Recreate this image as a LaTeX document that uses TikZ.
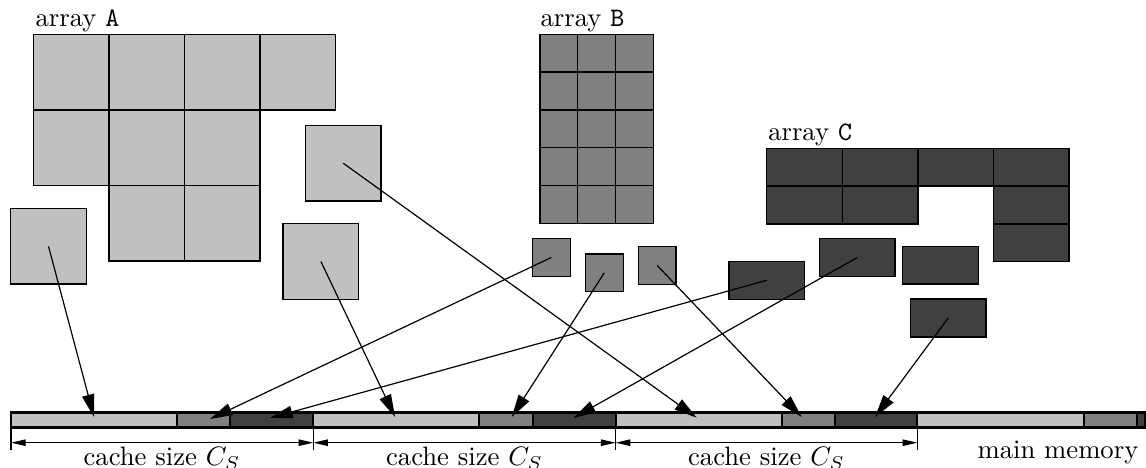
\documentclass[tikz,border=0pt]{standalone}
\usetikzlibrary{arrows.meta}
\definecolor{lightblk}{RGB}{192,192,192}
\definecolor{midblk}{RGB}{128,128,128}
\definecolor{darkblk}{RGB}{64,64,64}
\begin{document}
\begin{tikzpicture}[x=0.375pt,y=-0.375pt,
  cell/.style={draw=black, line width=0.5pt},
  blk/.style={draw=black, line width=0.5pt, inner sep=0pt, outer sep=0pt},
  blockA/.style={blk, fill=lightblk, minimum width=28.35pt, minimum height=28.35pt},
  blockB/.style={blk, fill=midblk, minimum width=14.2pt, minimum height=14.2pt},
  blockC/.style={blk, fill=darkblk, minimum width=28.35pt, minimum height=14.2pt},
  conn/.style={line width=0.45pt, -{Triangle[length=8.5pt,width=4.6pt]}},
  dim/.style={line width=0.45pt, {Triangle[length=5.5pt,width=2.4pt]}-{Triangle[length=5.5pt,width=2.4pt]}},
  sep/.style={line width=0.7pt},
  lbl/.style={anchor=base west, inner sep=0pt},
  caplabel/.style={anchor=base, inner sep=0pt},
]
\useasboundingbox (0,0) rectangle (1146,468);

% array A: 75.6 x 75.6 cells
\foreach \c/\r in {0/0,1/0,2/0,3/0,0/1,1/1,2/1,1/2,2/2}
  \filldraw[cell, fill=lightblk] ({33.3+75.6*\c},{34.3+75.6*\r}) rectangle ++(75.6,75.6);
\node[lbl] (labA) at (35,27) {array \texttt{A}};

% array B: 3 x 5 cells of 37.8
\foreach \c in {0,1,2}
  \foreach \r in {0,...,4}
    \filldraw[cell, fill=midblk] ({540+37.8*\c},{34.3+37.8*\r}) rectangle ++(37.8,37.8);
\node[lbl] (labB) at (540,27) {array \texttt{B}};

% array C: 75.6 x 37.8 cells
\foreach \c/\r in {0/0,1/0,2/0,3/0,0/1,1/1,3/1,3/2}
  \filldraw[cell, fill=darkblk] ({766.7+75.6*\c},{148.3+37.8*\r}) rectangle ++(75.6,37.8);
\node[lbl] (labC) at (767.7,141) {array \texttt{C}};

% blocks taken out of the arrays
\node[blockA] (a1) at (48.5,246.3) {};
\node[blockA] (a2) at (343.2,163.2) {};
\node[blockA] (a3) at (320.9,261.5) {};
\node[blockB] (b1) at (551.3,257.5) {};
\node[blockB] (b2) at (604.3,272.8) {};
\node[blockB] (b3) at (657.2,265.5) {};
\node[blockC] (c1) at (766.8,280.3) {};
\node[blockC] (c2) at (857.3,257.5) {};
\node[blockC] (c3) at (940.5,265.2) {};
\node[blockC] (c4) at (948.2,318) {};

% main memory strip
\foreach \s in {11,313.3,615.6} {
  \fill[lightblk] (\s,412.3) rectangle ({\s+166},427.3);
  \fill[midblk] ({\s+166},412.3) rectangle ({\s+219.3},427.3);
  \fill[darkblk] ({\s+219.3},412.3) rectangle ({\s+302.3},427.3);
  \draw[sep] ({\s+166},412.3) -- ({\s+166},427.3)
             ({\s+219.3},412.3) -- ({\s+219.3},427.3);
}
\fill[lightblk] (917.3,412.3) rectangle (1084,427.3);
\fill[midblk] (1084,412.3) rectangle (1136.7,427.3);
\fill[darkblk] (1136.7,412.3) rectangle (1145,427.3);
\draw[sep] (1084,412.3) -- (1084,427.3) (1136.7,412.3) -- (1136.7,427.3)
  (313.3,412.3) -- (313.3,427.3) (615.6,412.3) -- (615.6,427.3) (917.3,412.3) -- (917.3,427.3);
\draw[line width=1.1pt] (11,412.3) rectangle (1145,427.3);

% targets in memory
\coordinate (t1) at (94,417);
\coordinate (t2) at (210,419);
\coordinate (t3) at (270,418);
\coordinate (t4) at (395,417);
\coordinate (t5) at (511.7,417);
\coordinate (t6) at (573.3,418);
\coordinate (t7) at (696.7,417.7);
\coordinate (t8) at (801.7,417);
\coordinate (t9) at (875,417);

\draw[conn] (a1.center) -- (t1);
\draw[conn] (b1.center) -- (t2);
\draw[conn] (c1.center) -- (t3);
\draw[conn] (a3.center) -- (t4);
\draw[conn] (b2.center) -- (t5);
\draw[conn] (c2.center) -- (t6);
\draw[conn] (a2.center) -- (t7);
\draw[conn] (b3.center) -- (t8);
\draw[conn] (c4.center) -- (t9);

% cache size dimensions
\foreach \n/\x in {0/11,1/313.3,2/615.6,3/917.3} {
  \coordinate (u\n) at (\x,427.3);
  \coordinate (d\n) at (\x,450);
  \coordinate (m\n) at (\x,442.7);
  \draw[line width=0.5pt] (u\n) -- (d\n);
}
\draw[dim] (m0) -- (m1);
\draw[dim] (m1) -- (m2);
\draw[dim] (m2) -- (m3);
\node[caplabel] (cs1) at (162,465.5) {cache size $C_S$};
\node[caplabel] (cs2) at (464.5,465.5) {cache size $C_S$};
\node[caplabel] (cs3) at (766.5,465.5) {cache size $C_S$};
\node[lbl] (mm) at (977,458) {main memory};
\end{tikzpicture}
\end{document}
